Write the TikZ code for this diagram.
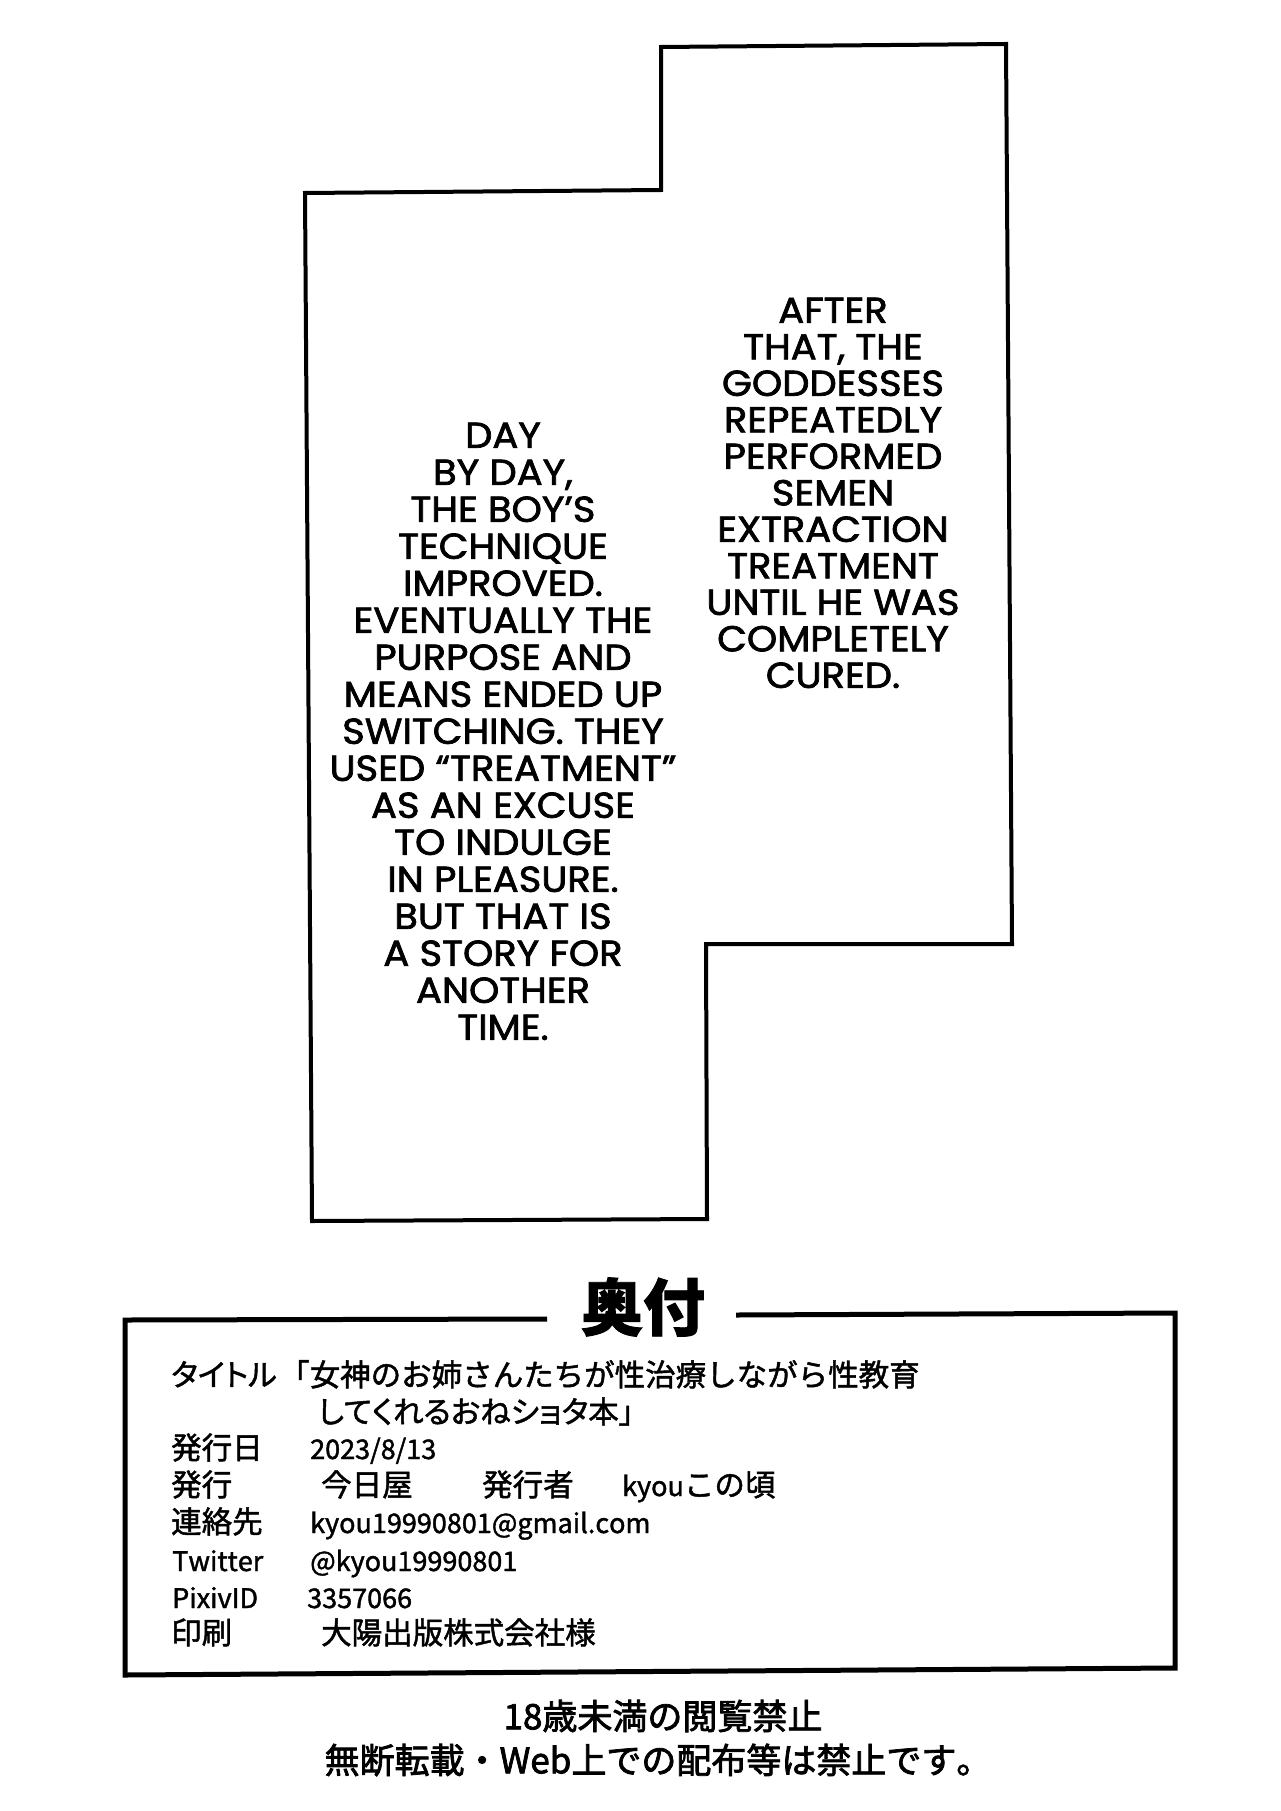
\documentclass[tikz,border=0pt]{standalone}
\usepackage{fontspec}
\newfontfamily\letterfont[FakeStretch=1.07, FakeBold=2]{Poppins}
\newfontfamily\jpfont[Kerning=Off, FakeBold=1.5]{Noto Sans CJK JP}
\newfontfamily\jppfont[Kerning=Off, FakeBold=1.5, RawFeature=+palt]{Noto Sans CJK JP}
\newfontfamily\noticefont[Kerning=Off, FakeBold=2.2]{Noto Sans CJK JP}
\newcommand\latinpart[1]{{\fontsize{27}{30}\selectfont #1}}

\tikzset{
	panel/.style={line width=4pt},
	frame/.style={line width=5pt},
	speech/.style={font=\letterfont\fontsize{36}{37}\selectfont, align=center, inner sep=0pt, anchor=north},
	colophon/.style={font=\jpfont\fontsize{30.5}{34}\selectfont, inner sep=0pt, anchor=base west},
	propcolophon/.style={colophon, font=\jppfont\fontsize{30.5}{34}\selectfont},
	latin/.style={colophon, font=\jpfont\fontsize{27}{30}\selectfont},
	notice/.style={font=\noticefont\fontsize{35}{40}\selectfont, inner sep=0pt},
}

\begin{document}
\begin{tikzpicture}[x=1pt, y=-1pt]
	\useasboundingbox[fill=white] (0, 0) rectangle (1280, 1811);
	\draw[panel] (305, 193) -- (661, 190) -- (661, 47) -- (1006, 44) -- (1012, 944) -- (706, 944) -- (707, 1219) -- (312, 1221) -- cycle;
	\node[speech] (daybyday) at (503, 422.5) {DAY\\BY DAY,\\THE BOY’S\\TECHNIQUE\\IMPROVED.\\EVENTUALLY THE\\PURPOSE AND\\MEANS ENDED UP\\SWITCHING. THEY\\USED “TREATMENT”\\AS AN EXCUSE\\TO INDULGE\\IN PLEASURE.\\BUT THAT IS\\A STORY FOR\\ANOTHER\\TIME.};
	\node[speech, font=\letterfont\fontsize{36}{36.5}\selectfont] (afterthat) at (833, 297.5) {AFTER\\THAT, THE\\GODDESSES\\REPEATEDLY\\PERFORMED\\SEMEN\\EXTRACTION\\TREATMENT\\UNTIL HE WAS\\COMPLETELY\\CURED.};

	\node[font=\jpfont\bfseries\fontsize{62}{70}\selectfont, inner sep=0pt] (okuzuke) at (643, 1307) {奥付};
	\draw[frame] (547, 1319) -- (125, 1320) -- (125, 1675) -- (1175, 1668) -- (1175, 1313) -- (736, 1315);

	\node[propcolophon] (title) at (171, 1386) {タイトル};
	\node[colophon] (titleval) at (279, 1386) {「女神のお姉さんたちが性治療しながら性教育};
	\node[propcolophon] (titleval2) at (318, 1423) {してくれるおねショタ本」};
	\node[colophon] (date) at (171, 1459) {発行日};
	\node[latin] (dateval) at (310, 1459) {2023/8/13};
	\node[colophon] (pub) at (171, 1496) {発行};
	\node[colophon] (pubval) at (321, 1496) {今日屋};
	\node[colophon] (author) at (482, 1496) {発行者};
	\node[colophon] (authorval) at (622, 1496) {\latinpart{kyou}この頃};
	\node[colophon] (contact) at (171, 1533) {連絡先};
	\node[latin] (contactval) at (310, 1533) {kyou19990801@gmail.com};
	\node[latin] (twitter) at (172, 1571) {Twitter};
	\node[latin] (twitterval) at (310, 1571) {@kyou19990801};
	\node[latin] (pixiv) at (172, 1608) {PixivID};
	\node[latin] (pixivval) at (307, 1608) {3357066};
	\node[colophon] (print) at (171, 1644) {印刷};
	\node[colophon] (printval) at (321, 1644) {大陽出版株式会社様};

	\node[notice] (agelimit) at (663, 1716) {18歳未満の閲覧禁止};
	\node[notice] (noreprint) at (658, 1760) {無断転載・Web上での配布等は禁止です。};
\end{tikzpicture}
\end{document}
